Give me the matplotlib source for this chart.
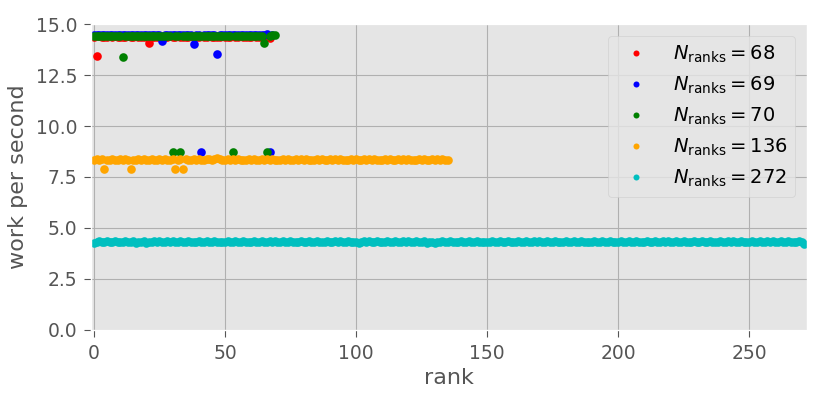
import numpy as np
import matplotlib
matplotlib.use('Agg')
import matplotlib.pyplot as plt

# work per second for each rank, one list per run size
n_ranks = [68, 69, 70, 136, 272]
colors = ['r', 'b', 'g', 'orange', 'c']

work_68 = [14.39, 13.45, 14.40, 14.39, 14.39, 14.38, 14.40, 14.39, 14.40, 14.39,
           14.39, 14.39, 14.38, 14.40, 14.39, 14.39, 14.40, 14.39, 14.39, 14.38,
           14.40, 14.05, 14.39, 14.39, 14.39, 14.40, 14.39, 14.38, 14.39, 14.40,
           14.39, 14.39, 14.40, 14.39, 14.39, 14.38, 14.39, 14.40, 14.39, 14.39,
           14.39, 14.40, 14.38, 14.39, 14.40, 14.39, 14.39, 14.39, 14.38, 14.40,
           14.39, 14.39, 14.39, 14.40, 14.39, 14.38, 14.40, 14.39, 14.39, 14.39,
           14.39, 14.40, 14.38, 14.39, 14.39, 14.39, 14.40, 14.30]

work_69 = [14.45, 14.44, 14.46, 14.45, 14.44, 14.45, 14.45, 14.46, 14.44, 14.45,
           14.45, 14.44, 14.45, 14.46, 14.45, 14.44, 14.45, 14.45, 14.46, 14.44,
           14.45, 14.45, 14.44, 14.45, 14.45, 14.46, 14.15, 14.44, 14.45, 14.45,
           14.46, 14.44, 14.45, 14.45, 14.44, 14.45, 14.45, 14.46, 14.00, 14.45,
           14.45, 8.72, 14.45, 14.44, 14.46, 14.45, 14.44, 13.55, 14.45, 14.45,
           14.46, 14.44, 14.45, 14.45, 14.44, 14.45, 14.45, 14.46, 14.44, 14.45,
           14.45, 14.44, 14.45, 14.46, 14.45, 14.44, 14.50, 8.72, 14.45]

work_70 = [14.42, 14.43, 14.42, 14.43, 14.42, 14.41, 14.43, 14.42, 14.43, 14.42,
           14.43, 13.40, 14.42, 14.43, 14.42, 14.43, 14.42, 14.41, 14.43, 14.42,
           14.43, 14.42, 14.43, 14.42, 14.41, 14.43, 14.42, 14.43, 14.42, 14.43,
           8.72, 14.42, 14.43, 8.72, 14.43, 14.42, 14.41, 14.43, 14.42, 14.43,
           14.42, 14.43, 14.42, 14.41, 14.43, 14.42, 14.43, 14.42, 14.43, 14.42,
           14.41, 14.43, 14.42, 8.72, 14.43, 14.42, 14.43, 14.42, 14.41, 14.43,
           14.42, 14.43, 14.42, 14.43, 14.42, 14.05, 8.72, 14.43, 14.47, 14.48]

work_136 = [8.35, 8.36, 8.35, 8.36, 7.88, 8.35, 8.34, 8.36, 8.35, 8.35,
            8.36, 8.35, 8.36, 8.35, 7.88, 8.31, 8.35, 8.36, 8.35, 8.36,
            8.35, 8.35, 8.36, 8.34, 8.35, 8.36, 8.35, 8.36, 8.35, 8.35,
            8.36, 7.90, 8.35, 8.36, 7.90, 8.36, 8.35, 8.35, 8.36, 8.35,
            8.36, 8.35, 8.35, 8.36, 8.36, 8.35, 8.37, 8.43, 8.36, 8.35,
            8.35, 8.36, 8.35, 8.36, 8.35, 8.36, 8.35, 8.34, 8.35, 8.36,
            8.35, 8.36, 8.35, 8.35, 8.36, 8.35, 8.36, 8.35, 8.36, 8.35,
            8.34, 8.35, 8.36, 8.35, 8.36, 8.35, 8.35, 8.36, 8.35, 8.36,
            8.35, 8.36, 8.35, 8.34, 8.35, 8.36, 8.35, 8.36, 8.35, 8.35,
            8.36, 8.35, 8.36, 8.35, 8.36, 8.35, 8.34, 8.35, 8.36, 8.35,
            8.36, 8.35, 8.35, 8.36, 8.35, 8.36, 8.35, 8.36, 8.35, 8.34,
            8.35, 8.36, 8.35, 8.36, 8.35, 8.35, 8.36, 8.35, 8.36, 8.35,
            8.36, 8.35, 8.34, 8.35, 8.36, 8.35, 8.36, 8.35, 8.35, 8.36,
            8.35, 8.36, 8.35, 8.36, 8.35, 8.35]

work_272 = [4.28, 4.33, 4.34, 4.33, 4.33, 4.34, 4.33, 4.33, 4.34, 4.33,
            4.32, 4.33, 4.34, 4.33, 4.33, 4.34, 4.28, 4.33, 4.33, 4.34,
            4.28, 4.33, 4.33, 4.34, 4.33, 4.34, 4.33, 4.33, 4.34, 4.33,
            4.34, 4.33, 4.33, 4.34, 4.33, 4.33, 4.34, 4.33, 4.32, 4.33,
            4.34, 4.33, 4.33, 4.34, 4.33, 4.33, 4.34, 4.33, 4.32, 4.33,
            4.33, 4.34, 4.33, 4.33, 4.34, 4.33, 4.33, 4.34, 4.33, 4.32,
            4.33, 4.34, 4.33, 4.33, 4.34, 4.33, 4.33, 4.34, 4.33, 4.34,
            4.33, 4.33, 4.34, 4.33, 4.33, 4.34, 4.33, 4.32, 4.33, 4.34,
            4.33, 4.33, 4.34, 4.33, 4.33, 4.34, 4.33, 4.32, 4.33, 4.34,
            4.33, 4.33, 4.34, 4.33, 4.34, 4.33, 4.33, 4.34, 4.33, 4.32,
            4.33, 4.27, 4.33, 4.34, 4.33, 4.34, 4.33, 4.33, 4.34, 4.33,
            4.32, 4.33, 4.34, 4.33, 4.33, 4.34, 4.33, 4.33, 4.34, 4.33,
            4.34, 4.33, 4.33, 4.34, 4.33, 4.33, 4.34, 4.28, 4.32, 4.33,
            4.28, 4.33, 4.33, 4.34, 4.33, 4.33, 4.34, 4.33, 4.32, 4.33,
            4.34, 4.33, 4.33, 4.34, 4.33, 4.33, 4.34, 4.33, 4.32, 4.33,
            4.30, 4.33, 4.34, 4.33, 4.33, 4.34, 4.33, 4.33, 4.34, 4.33,
            4.32, 4.33, 4.34, 4.33, 4.33, 4.34, 4.33, 4.33, 4.34, 4.33,
            4.34, 4.33, 4.33, 4.34, 4.33, 4.33, 4.34, 4.33, 4.32, 4.33,
            4.34, 4.33, 4.33, 4.34, 4.33, 4.33, 4.34, 4.33, 4.32, 4.33,
            4.33, 4.34, 4.33, 4.33, 4.34, 4.29, 4.33, 4.34, 4.29, 4.32,
            4.33, 4.34, 4.33, 4.33, 4.34, 4.33, 4.33, 4.34, 4.33, 4.32,
            4.33, 4.34, 4.33, 4.33, 4.34, 4.33, 4.33, 4.34, 4.33, 4.34,
            4.33, 4.33, 4.34, 4.33, 4.29, 4.34, 4.33, 4.29, 4.33, 4.34,
            4.33, 4.33, 4.34, 4.33, 4.33, 4.34, 4.33, 4.32, 4.33, 4.34,
            4.33, 4.33, 4.34, 4.33, 4.34, 4.33, 4.33, 4.34, 4.33, 4.32,
            4.33, 4.34, 4.33, 4.33, 4.34, 4.33, 4.33, 4.34, 4.33, 4.34,
            4.33, 4.33, 4.34, 4.33, 4.33, 4.34, 4.33, 4.32, 4.33, 4.34,
            4.31, 4.22]

all_work = [work_68, work_69, work_70, work_136, work_272]

plt.style.use('ggplot')
plt.rcParams['grid.color'] = '#b0b0b0'

fig = plt.figure(figsize=(8.3, 4.15), dpi=100)
ax = fig.add_axes([0.11, 0.205, 0.862, 0.737])

for n, work, col in zip(n_ranks, all_work, colors):
    ranks = np.arange(len(work))
    ax.plot(ranks, work, 'o', ls='none', ms=6.2, mew=0, color=col,
            zorder=2, snap=False, label=r'$N_\mathrm{ranks} = %d$' % n)

ax.set_xlim(-1, 272)
ax.set_ylim(0, 15)
ax.set_xticks([0, 50, 100, 150, 200, 250])
ax.set_yticks([0, 2.5, 5, 7.5, 10, 12.5, 15])
ax.tick_params(labelsize=13.5, length=5, pad=5)
ax.set_xlabel('rank', fontsize=16, labelpad=4)
ax.set_ylabel('work per second', fontsize=16, labelpad=6)
ax.legend(loc='upper right', fontsize=14, markerscale=0.7, numpoints=1,
          handletextpad=0.9, borderaxespad=0.6)

fig.savefig('out.png', dpi=100)
